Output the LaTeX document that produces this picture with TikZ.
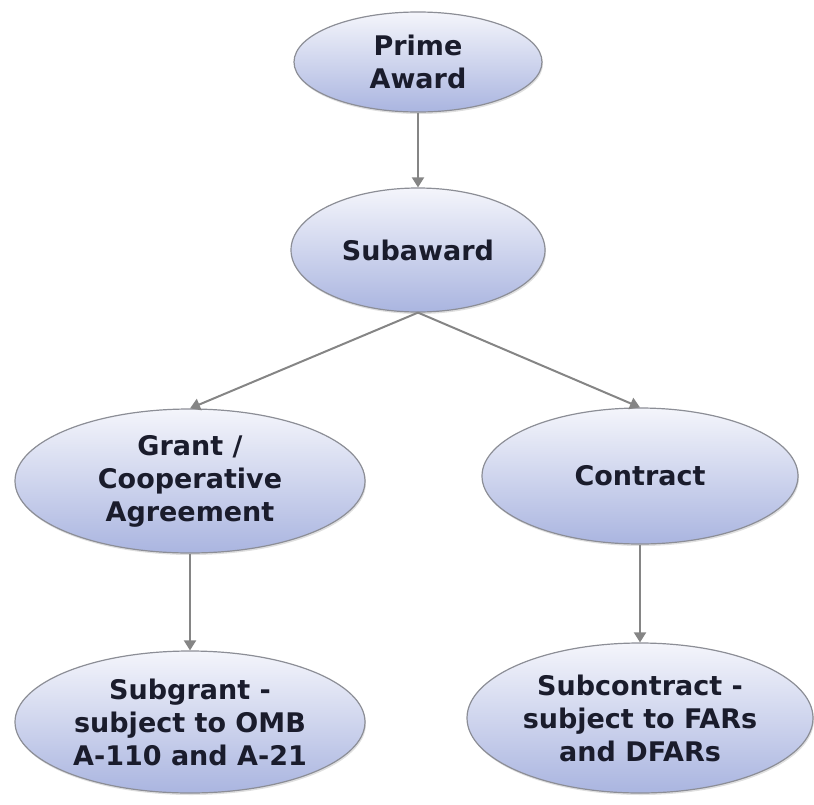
\documentclass[tikz,border=0pt]{standalone}
\usepackage{fontspec}
\setmainfont{DejaVu Sans}
\usetikzlibrary{shapes.geometric,arrows.meta,shadows,positioning}

\definecolor{textnavy}{HTML}{1A1C2C}
\definecolor{edgegray}{HTML}{8C8E96}
\definecolor{linkgray}{HTML}{858585}
\definecolor{filltop}{HTML}{F4F5FB}
\definecolor{fillbottom}{HTML}{AAB5E0}

\begin{document}
\begin{tikzpicture}[%
    x=1pt, y=-1pt,
    >={Triangle[width=12pt,length=10pt]},
    award/.style={ellipse, draw=edgegray, line width=1.2pt,
      top color=filltop, bottom color=fillbottom,
      inner sep=0pt, align=center, text=textnavy,
      font=\bfseries\fontsize{27}{33}\selectfont,
      drop shadow={opacity=0.25, shadow xshift=1pt, shadow yshift=-2pt}},
    link/.style={->, draw=linkgray, line width=2pt},
  ]
    \useasboundingbox (0,0) rectangle (814,804);

    \node[award, minimum width=248, minimum height=100] (prime)    at (418,62)  {Prime\\Award};
    \node[award, minimum width=254, minimum height=124] (subaward) at (418,250) {Subaward};
    \node[award, minimum width=350, minimum height=144] (grant)    at (190,481) {Grant /\\Cooperative\\Agreement};
    \node[award, minimum width=316, minimum height=136] (contract) at (640,476) {Contract};
    \node[award, minimum width=350, minimum height=142] (subgrant) at (190,722) {Subgrant -\\subject to OMB\\A-110 and A-21};
    \node[award, minimum width=346, minimum height=150] (subcontract) at (640,718) {Subcontract -\\subject to FARs\\and DFARs};

    \path[link] (prime) -- (subaward);
    \path[link] (subaward.south) -- (grant.north);
    \path[link] (subaward.south) -- (contract.north);
    \path[link] (grant) -- (subgrant);
    \path[link] (contract) -- (subcontract);
\end{tikzpicture}
\end{document}
